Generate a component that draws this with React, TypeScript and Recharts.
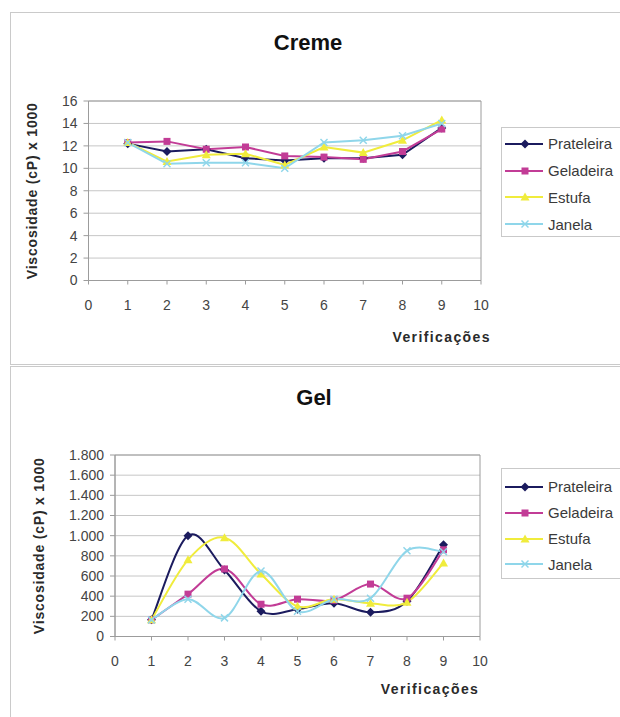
import { LineChart, Line, XAxis, YAxis, CartesianGrid, Legend, ReferenceArea, Label } from "recharts"

// verificações (eixo x) e valores
const verificacoes = [1, 2, 3, 4, 5, 6, 7, 8, 9]
const seriesNames = ["Prateleira", "Geladeira", "Estufa", "Janela"]

const cremePrateleira = [12.2, 11.5, 11.7, 10.9, 10.7, 10.9, 10.9, 11.2, 13.6]
const cremeGeladeira = [12.3, 12.4, 11.7, 11.9, 11.1, 11.0, 10.8, 11.5, 13.5]
const cremeEstufa = [12.3, 10.6, 11.2, 11.3, 10.3, 11.9, 11.4, 12.5, 14.3]
const cremeJanela = [12.3, 10.4, 10.5, 10.5, 10.0, 12.3, 12.5, 12.9, 14.0]

const gelPrateleira = [165, 1000, 660, 250, 270, 330, 240, 350, 910]
const gelGeladeira = [165, 420, 670, 320, 370, 360, 520, 380, 860]
const gelEstufa = [165, 760, 980, 620, 300, 370, 330, 340, 730]
const gelJanela = [165, 370, 185, 650, 250, 370, 380, 850, 840]

const xTicks = [0, 1, 2, 3, 4, 5, 6, 7, 8, 9, 10]
const cremeTicks = [0, 2, 4, 6, 8, 10, 12, 14, 16]
const gelTicks = [0, 200, 400, 600, 800, 1000, 1200, 1400, 1600, 1800]

const colors = ["#1b1b5e", "#c23c96", "#f0ec3c", "#8fd6ea"]
const markers = ["diamond", "square", "triangle", "cross"]
const FONT = "'Liberation Sans', Arial, sans-serif"

const buildRows = (a: number[], b: number[], c: number[], d: number[]) =>
  verificacoes.map((v, i) => ({ x: v, Prateleira: a[i], Geladeira: b[i], Estufa: c[i], Janela: d[i] }))

const cremeData = buildRows(cremePrateleira, cremeGeladeira, cremeEstufa, cremeJanela)
const gelData = buildRows(gelPrateleira, gelGeladeira, gelEstufa, gelJanela)

const ptBR = (v: number) =>
  v >= 1000 ? `${Math.floor(v / 1000)}.${String(v % 1000).padStart(3, "0")}` : String(v)

// suavização parecida com a do Excel (catmull-rom)
function excelSmooth(context: any) {
  let pts: number[][] = []
  return {
    areaStart() {},
    areaEnd() {},
    lineStart() {
      pts = []
    },
    lineEnd() {
      const n = pts.length
      if (!n) return
      context.moveTo(pts[0][0], pts[0][1])
      for (let i = 0; i < n - 1; i++) {
        const p0 = pts[i - 1] || pts[i]
        const p1 = pts[i]
        const p2 = pts[i + 1]
        const p3 = pts[i + 2] || p2
        context.bezierCurveTo(
          p1[0] + (p2[0] - p0[0]) / 6,
          p1[1] + (p2[1] - p0[1]) / 6,
          p2[0] - (p3[0] - p1[0]) / 6,
          p2[1] - (p3[1] - p1[1]) / 6,
          p2[0],
          p2[1]
        )
      }
    },
    point(x: number, y: number) {
      pts.push([+x, +y])
    },
  }
}

function Marker({ kind, x, y, color }: { kind: string; x: number; y: number; color: string }) {
  if (kind === "diamond")
    return <polygon points={`${x},${y - 4.5} ${x + 4.5},${y} ${x},${y + 4.5} ${x - 4.5},${y}`} fill={color} />
  if (kind === "square") return <rect x={x - 3.5} y={y - 3.5} width={7} height={7} fill={color} />
  if (kind === "triangle")
    return <polygon points={`${x},${y - 4.5} ${x + 4.5},${y + 3.5} ${x - 4.5},${y + 3.5}`} fill={color} />
  return (
    <g stroke={color} strokeWidth={1.5}>
      <line x1={x - 3.5} y1={y - 3.5} x2={x + 3.5} y2={y + 3.5} />
      <line x1={x - 3.5} y1={y + 3.5} x2={x + 3.5} y2={y - 3.5} />
    </g>
  )
}

const dotRenderer = (kind: string, color: string) => (p: any) => {
  if (p.cx == null || p.cy == null) return <g key={p.index} />
  return <Marker key={p.index} kind={kind} x={p.cx} y={p.cy} color={color} />
}

function LegendBox({ first, step, height }: { first: number; step: number; height: number }) {
  return (
    <div style={{ position: "relative", width: 130, height, border: "1px solid #c9c9c9", background: "#fff" }}>
      {seriesNames.map((name, i) => (
        <div key={name} style={{ position: "absolute", left: 3, top: first + i * step - 9, height: 18, display: "flex", alignItems: "center" }}>
          <svg width={40} height={12}>
            <line x1={0} y1={6} x2={38} y2={6} stroke={colors[i]} strokeWidth={2} />
            <Marker kind={markers[i]} x={20} y={6} color={colors[i]} />
          </svg>
          <span style={{ fontFamily: FONT, fontSize: 15, color: "#3a3a3a", marginLeft: 3 }}>{name}</span>
        </div>
      ))}
    </div>
  )
}

interface ChartProps {
  data: any[]
  yMax: number
  yTicks: number[]
  smooth: boolean
  height: number
  margin: { top: number; right: number; left: number; bottom: number }
  yLabelDx: number
  xLabelDx: number
  xLabelDy: number
  legendTop: number
  legendFirst: number
  legendStep: number
  legendHeight: number
  format?: (v: number) => string
}

function ViscosityChart(props: ChartProps) {
  const { data, yMax, yTicks, smooth, height, margin } = props
  const tick = { fill: "#444", fontSize: 14, fontFamily: FONT }
  return (
    <LineChart width={620} height={height} data={data} margin={margin}>
      <CartesianGrid vertical={false} stroke="#c6c6c6" />
      <ReferenceArea x1={0} x2={10} y1={0} y2={yMax} fill="none" stroke="#9c9c9c" ifOverflow="visible" />
      <XAxis
        type="number"
        dataKey="x"
        domain={[0, 10]}
        ticks={xTicks}
        interval={0}
        height={30}
        tick={tick}
        tickSize={4}
        tickMargin={16}
        stroke="#9c9c9c"
      >
        <Label
          content={(lp: any) => {
            const vb = lp.viewBox
            return (
              <text
                x={vb.x + vb.width + props.xLabelDx}
                y={vb.y + props.xLabelDy}
                textAnchor="middle"
                dominantBaseline="central"
                fontFamily={FONT}
                fontSize={14}
                fontWeight="bold"
                letterSpacing={1.4}
                fill="#2a2a2a"
              >
                Verificações
              </text>
            )
          }}
        />
      </XAxis>
      <YAxis
        type="number"
        domain={[0, yMax]}
        ticks={yTicks}
        interval={0}
        width={60}
        tick={tick}
        tickSize={5}
        tickMargin={6}
        stroke="#9c9c9c"
        tickFormatter={props.format}
      >
        <Label
          content={(lp: any) => {
            const vb = lp.viewBox
            const cx = vb.x + vb.width + props.yLabelDx
            const cy = vb.y + vb.height / 2
            return (
              <text
                x={cx}
                y={cy}
                transform={`rotate(-90 ${cx} ${cy})`}
                textAnchor="middle"
                dominantBaseline="central"
                fontFamily={FONT}
                fontSize={14}
                fontWeight="bold"
                letterSpacing={0.8}
                fill="#2a2a2a"
              >
                Viscosidade (cP) x 1000
              </text>
            )
          }}
        />
      </YAxis>
      <Legend
        layout="horizontal"
        verticalAlign="middle"
        align="center"
        content={() => <LegendBox first={props.legendFirst} step={props.legendStep} height={props.legendHeight} />}
        wrapperStyle={{ left: 501, top: props.legendTop, width: 135 }}
      />
      {seriesNames.map((name, i) => (
        <Line
          key={name}
          dataKey={name}
          type={smooth ? (excelSmooth as any) : "linear"}
          stroke={colors[i]}
          strokeWidth={2}
          dot={dotRenderer(markers[i], colors[i])}
          activeDot={false}
          isAnimationActive={false}
        />
      ))}
    </LineChart>
  )
}

const titleStyle = (x: number, y: number): React.CSSProperties => ({
  position: "absolute",
  left: x - 100,
  top: y - 13,
  width: 200,
  height: 26,
  lineHeight: "26px",
  textAlign: "center",
  fontFamily: FONT,
  fontWeight: "bold",
  fontSize: 22,
  color: "#111",
})

export default function App() {
  return (
    <div style={{ position: "absolute", left: 0, top: 0, width: 620, height: 717, overflow: "hidden", background: "#fff" }}>
      <div style={{ position: "absolute", left: 10, top: 12, width: 640, height: 351, border: "1px solid #cacaca" }} />
      <div style={{ position: "absolute", left: 10, top: 366, width: 640, height: 380, border: "1px solid #cacaca" }} />

      <div style={{ position: "absolute", left: 0, top: 0 }}>
        <ViscosityChart
          data={cremeData}
          yMax={16}
          yTicks={cremeTicks}
          smooth={false}
          height={360}
          margin={{ top: 101, right: 139, left: 28.5, bottom: 49.5 }}
          yLabelDx={-56.8}
          xLabelDx={-39.3}
          xLabelDy={56.8}
          legendTop={127}
          legendFirst={15.7}
          legendStep={26.8}
          legendHeight={108}
        />
      </div>
      <div style={titleStyle(308, 43)}>Creme</div>

      <div style={{ position: "absolute", left: 0, top: 367 }}>
        <ViscosityChart
          data={gelData}
          yMax={1800}
          yTicks={gelTicks}
          smooth={true}
          height={350}
          margin={{ top: 88, right: 140, left: 55, bottom: 50.5 }}
          yLabelDx={-75.7}
          xLabelDx={-50}
          xLabelDy={52.8}
          legendTop={101}
          legendFirst={17.7}
          legendStep={25.9}
          legendHeight={109}
          format={ptBR}
        />
      </div>
      <div style={titleStyle(314, 398)}>Gel</div>
    </div>
  )
}
